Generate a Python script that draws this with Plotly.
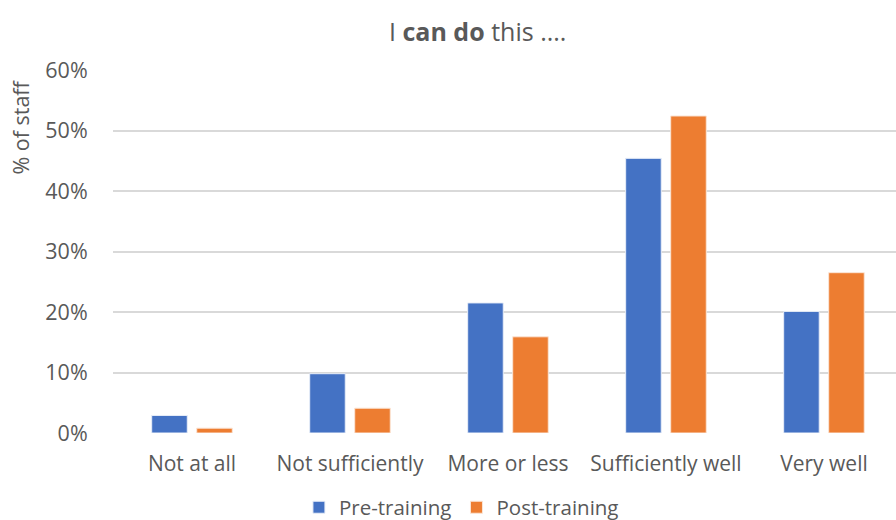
import plotly.graph_objects as go

categories = ["Not at all", "Not sufficiently", "More or less", "Sufficiently well", "Very well"]
pre_training = [0.029, 0.098, 0.215, 0.454, 0.201]
post_training = [0.008, 0.041, 0.159, 0.524, 0.265]
y_ticks = [0, 0.1, 0.2, 0.3, 0.4, 0.5, 0.6]
y_tick_labels = ["0%", "10%", "20%", "30%", "40%", "50%", "60%"]

FONT = "Open Sans, Liberation Sans, sans-serif"
GRAY = "#595959"

fig = go.Figure()
fig.add_trace(go.Bar(name="Pre-training", x=categories, y=pre_training,
                     marker=dict(color="#4472C4", line=dict(color="#E8EEF8", width=1))))
fig.add_trace(go.Bar(name="Post-training", x=categories, y=post_training,
                     marker=dict(color="#ED7D31", line=dict(color="#FBE5D6", width=1))))

fig.update_layout(
    width=896, height=520,
    margin=dict(l=113, r=0, t=70, b=87, autoexpand=False),
    paper_bgcolor="white", plot_bgcolor="white",
    barmode="group", bargap=0.43, bargroupgap=0.21,
    font=dict(family=FONT, color=GRAY, size=20),
    showlegend=True,
    legend=dict(orientation="h", x=0.445, xanchor="center", y=-0.205, yanchor="middle",
                font=dict(size=20.5, color=GRAY), itemwidth=30, traceorder="normal"),
    xaxis=dict(range=[-0.5, 4.456], showgrid=False, zeroline=False, showline=False,
               automargin=False,
               ticks="outside", tickcolor="rgba(0,0,0,0)", ticklen=12,
               tickfont=dict(size=21, color=GRAY)),
    yaxis=dict(range=[0, 0.6], tickvals=y_ticks, ticktext=y_tick_labels,
               showgrid=True, gridcolor="#D9D9D9", gridwidth=1.5, zeroline=False,
               automargin=False,
               showline=False, ticks="outside", tickcolor="rgba(0,0,0,0)", ticklen=20,
               tickfont=dict(size=21.5, color=GRAY)),
    annotations=[
        dict(text="I <b>can do</b> this ....", xref="paper", yref="paper",
             x=0.465, y=1.107, xanchor="center", yanchor="middle", showarrow=False,
             font=dict(size=25, color=GRAY, family=FONT)),
        dict(text="% of staff", xref="paper", yref="paper", x=-0.118, y=0.843,
             xanchor="center", yanchor="middle", textangle=-90, showarrow=False,
             font=dict(size=21.5, color=GRAY, family=FONT)),
    ],
)

fig.write_html(
    "out.html",
    config={"displayModeBar": False},
    post_script="document.body.style.margin='0';document.body.style.overflow='hidden';",
)
